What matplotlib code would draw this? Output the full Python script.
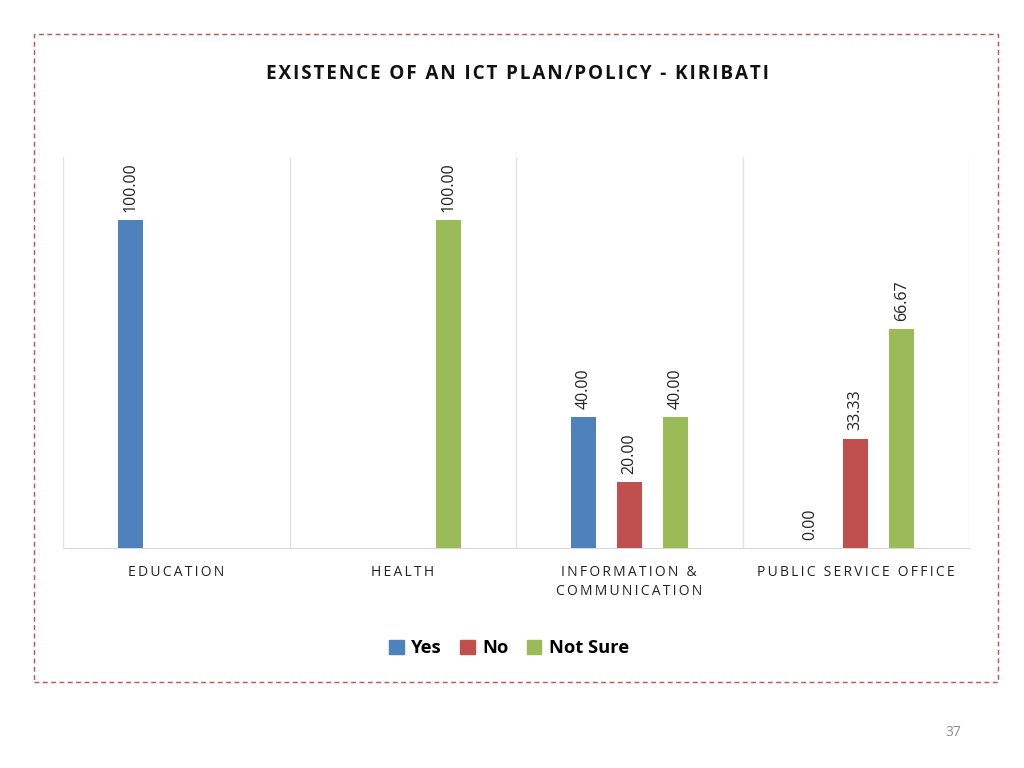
import numpy as np
import matplotlib
matplotlib.use("Agg")
import matplotlib.pyplot as plt
from matplotlib.patches import Rectangle, Patch

categories = ["EDUCATION", "HEALTH", "INFORMATION &\nCOMMUNICATION", "PUBLIC SERVICE OFFICE"]
series_names = ["Yes", "No", "Not Sure"]
yes_vals = [100.00, np.nan, 40.00, 0.00]
no_vals = [np.nan, np.nan, 20.00, 33.33]
notsure_vals = [np.nan, 100.00, 40.00, 66.67]
colors = ["#4F81BD", "#C0504D", "#9BBB59"]
title = "EXISTENCE OF AN ICT PLAN/POLICY - KIRIBATI"
page_number = "37"

plt.rcParams['font.family'] = ['Open Sans', 'DejaVu Sans']

def spaced(s, sep="\u2009"):
    return "\n".join(sep.join(list(line)) for line in s.split("\n"))

fig = plt.figure(figsize=(10.24, 7.68), dpi=100)
fig.patch.set_facecolor("white")

# dashed border
border = Rectangle((34/1024, 1-682/768), (998-34)/1024, (682-34)/768,
                   transform=fig.transFigure, fill=False, edgecolor="#C0504D",
                   linestyle=(0, (3.5, 2.5)), linewidth=1.0)
fig.patches.append(border)

ax = fig.add_axes([63/1024, 1-548/768, (969-63)/1024, (548-157)/768])
x = np.arange(len(categories))
offsets = [-0.203, 0.0, 0.203]
width = 0.11
for vals, off, col in zip([yes_vals, no_vals, notsure_vals], offsets, colors):
    v = np.array(vals, dtype=float)
    mask = ~np.isnan(v)
    ax.bar(x[mask] + off, v[mask], width=width, color=col, zorder=3)
    for xi, vi in zip(x[mask] + off, v[mask]):
        ax.annotate(f"{vi:.2f}", (xi, vi), xytext=(0, 6), textcoords="offset points",
                    rotation=90, ha="center", va="bottom", fontsize=11.5, color="#222222")

ax.set_xlim(-0.5, len(categories) - 0.5)
ax.set_ylim(0, 119.3)
ax.set_yticks([])
ax.set_xticks(x)
ax.set_xticklabels([spaced(c) for c in categories], fontsize=10, color="#222222",
                   linespacing=1.4)
ax.tick_params(axis="x", length=0, pad=12)
for b in np.arange(-0.5, len(categories), 1.0):
    ax.axvline(b, color="#E3E3E3", linewidth=1, zorder=1)
for s in ["top", "left", "right"]:
    ax.spines[s].set_visible(False)
ax.spines["bottom"].set_color("#D9D9D9")

fig.text(518/1024, 1-74/768, spaced(title, "\u200a"), ha="center", va="center",
         fontsize=13.6, fontweight="bold", color="#111111")

handles = [Patch(facecolor=c, edgecolor=c) for c in colors]
leg = fig.legend(handles, series_names, loc="center", bbox_to_anchor=(509/1024, 1-648/768),
                 ncol=3, frameon=False, prop={"weight": "bold", "size": 13.2},
                 handlelength=0.8, handleheight=0.8, handletextpad=0.4, columnspacing=1.0)

fig.text(953/1024, 1-733/768, page_number, ha="center", va="center", fontsize=10, color="#8C8C8C")

fig.savefig("out.png", dpi=100)
